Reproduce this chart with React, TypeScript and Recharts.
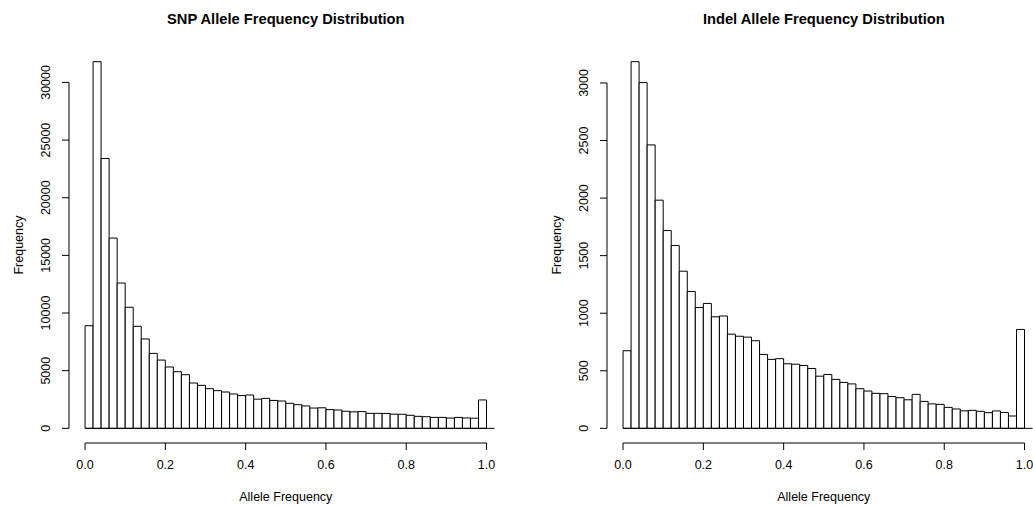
import React from "react";
import { ComposedChart, Bar, XAxis, YAxis, ReferenceLine, Label } from "recharts";

// bin midpoints, 0.02 wide bins from 0 to 1
const binMids = [
  0.01, 0.03, 0.05, 0.07, 0.09, 0.11, 0.13, 0.15, 0.17, 0.19,
  0.21, 0.23, 0.25, 0.27, 0.29, 0.31, 0.33, 0.35, 0.37, 0.39,
  0.41, 0.43, 0.45, 0.47, 0.49, 0.51, 0.53, 0.55, 0.57, 0.59,
  0.61, 0.63, 0.65, 0.67, 0.69, 0.71, 0.73, 0.75, 0.77, 0.79,
  0.81, 0.83, 0.85, 0.87, 0.89, 0.91, 0.93, 0.95, 0.97, 0.99,
];
// the last break sits one (empty) bin past 1.0
const firstBreak = 0;
const lastBreak = 1.02;

const snpCounts = [
  8900, 31800, 23400, 16500, 12600, 10500, 8850, 7750, 6500, 5920,
  5320, 4910, 4650, 3930, 3730, 3440, 3270, 3150, 2980, 2840,
  2890, 2530, 2600, 2420, 2370, 2170, 2050, 1940, 1760, 1780,
  1620, 1590, 1480, 1430, 1450, 1300, 1300, 1290, 1230, 1220,
  1130, 1040, 1010, 950, 950, 890, 950, 900, 880, 2460,
];

const indelCounts = [
  674, 3185, 3003, 2462, 1982, 1718, 1588, 1365, 1189, 1050,
  1085, 969, 976, 818, 800, 792, 761, 642, 599, 605,
  561, 557, 546, 520, 453, 468, 425, 399, 386, 344,
  324, 304, 301, 276, 266, 248, 295, 234, 212, 208,
  182, 168, 152, 156, 148, 136, 151, 137, 107, 859,
];

const xTicks = [0, 0.2, 0.4, 0.6, 0.8, 1.0];
const snpYTicks = [0, 5000, 10000, 15000, 20000, 25000, 30000];
const indelYTicks = [0, 500, 1000, 1500, 2000, 2500, 3000];

const FONT = "'Liberation Sans', Arial, Helvetica, sans-serif";
const W = 538;
const H = 506;

const RotatedTick = (props: any) => {
  const { x, y, payload } = props;
  return (
    <text
      x={x}
      y={y}
      transform={`rotate(-90 ${x} ${y})`}
      textAnchor="middle"
      fontSize={12.5}
      fontFamily={FONT}
      fill="#000"
    >
      {payload.value}
    </text>
  );
};

type HistProps = { title: string; counts: number[]; yTicks: number[] };

const Histogram = ({ title, counts, yTicks }: HistProps) => {
  const data = binMids.map((mid, i) => ({ mid, count: counts[i] }));
  const top = Math.max(...counts);
  const yDomain: [number, number] = [-0.04 * top, 1.04 * top];
  const xDomain: [number, number] = [-0.04, 1.04];

  return (
    <div style={{ position: "relative", width: W, height: H }}>
      <div
        style={{
          position: "absolute",
          top: 11,
          left: 69,
          width: 433.6,
          textAlign: "center",
          fontFamily: FONT,
          fontWeight: "bold",
          fontSize: 14.7,
          color: "#000",
          whiteSpace: "nowrap",
        }}
      >
        {title}
      </div>
      <ComposedChart
        width={W}
        height={H}
        data={data}
        margin={{ top: 47, right: 35.4, bottom: 0, left: 0 }}
        barCategoryGap={0}
        barGap={0}
      >
        <XAxis
          dataKey="mid"
          type="number"
          domain={xDomain}
          allowDataOverflow
          ticks={xTicks}
          interval={0}
          tickFormatter={(v: number) => v.toFixed(1)}
          axisLine={false}
          tickLine={{ stroke: "#000" }}
          tickSize={7}
          tickMargin={10}
          height={63}
          tick={{ fill: "#000", fontSize: 12.5, fontFamily: FONT }}
        >
          <Label
            value="Allele Frequency"
            position="insideBottom"
            offset={5}
            fill="#000"
            fontSize={12.5}
            fontFamily={FONT}
          />
        </XAxis>
        <YAxis
          type="number"
          domain={yDomain}
          allowDataOverflow
          ticks={yTicks}
          interval={0}
          width={69}
          axisLine={false}
          tickLine={{ stroke: "#000" }}
          tickSize={7}
          tickMargin={12}
          tick={(p: any) => <RotatedTick {...p} />}
        >
          <Label
            value="Frequency"
            angle={-90}
            position="insideLeft"
            offset={19}
            fill="#000"
            fontSize={12.5}
            fontFamily={FONT}
            style={{ textAnchor: "middle" }}
          />
        </YAxis>
        <Bar dataKey="count" fill="#fff" stroke="#000" strokeWidth={1} isAnimationActive={false} />
        <ReferenceLine
          segment={[{ x: firstBreak, y: 0 }, { x: lastBreak, y: 0 }]}
          stroke="#000"
          strokeWidth={1}
          ifOverflow="visible"
        />
        <ReferenceLine
          segment={[{ x: xDomain[0], y: yTicks[0] }, { x: xDomain[0], y: yTicks[yTicks.length - 1] }]}
          stroke="#000"
          strokeWidth={1}
          ifOverflow="visible"
        />
        <ReferenceLine
          segment={[{ x: xTicks[0], y: yDomain[0] }, { x: xTicks[xTicks.length - 1], y: yDomain[0] }]}
          stroke="#000"
          strokeWidth={1}
          ifOverflow="visible"
        />
      </ComposedChart>
    </div>
  );
};

export default function App() {
  return (
    <div
      style={{
        position: "absolute",
        left: 0,
        top: 0,
        width: 1033,
        height: 506,
        overflow: "hidden",
        background: "#fff",
      }}
    >
      <div style={{ position: "absolute", left: 0, top: 0 }}>
        <Histogram title="SNP Allele Frequency Distribution" counts={snpCounts} yTicks={snpYTicks} />
      </div>
      <div style={{ position: "absolute", left: W, top: 0 }}>
        <Histogram title="Indel Allele Frequency Distribution" counts={indelCounts} yTicks={indelYTicks} />
      </div>
    </div>
  );
}
